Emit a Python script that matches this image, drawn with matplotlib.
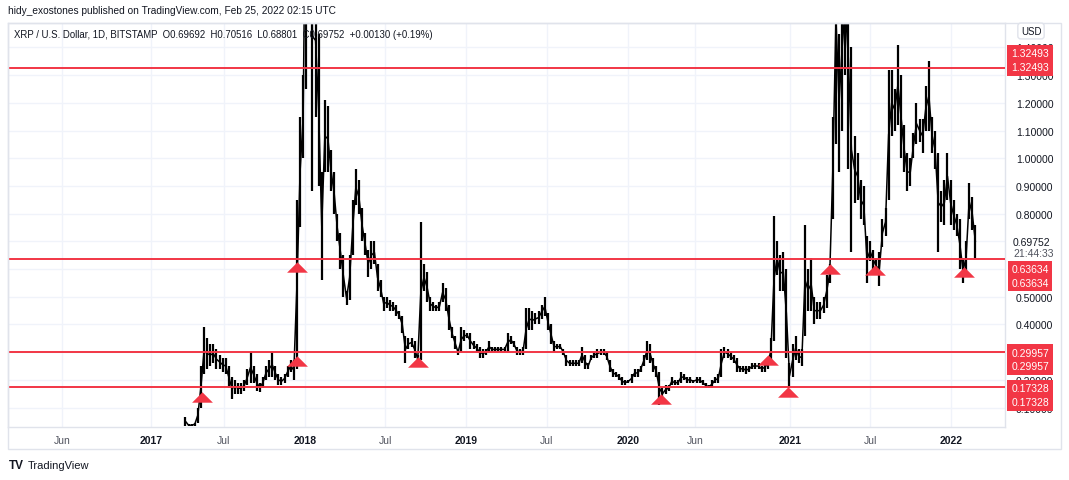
import matplotlib
matplotlib.use('Agg')
import matplotlib.pyplot as plt
from matplotlib.path import Path
from matplotlib.patches import Rectangle
import pandas as pd

plt.rcParams['font.family'] = ['Liberation Sans', 'DejaVu Sans']

# weekly low / high of XRP/USD (Bitstamp), weeks starting Monday 2017-04-03
lo_2017 = [0.035, 0.033, 0.033, 0.035,                 # apr
           0.045, 0.10, 0.22, 0.24, 0.25,              # may
           0.26, 0.24, 0.24, 0.23,                     # jun
           0.22, 0.17, 0.13, 0.15, 0.15,               # jul
           0.15, 0.16, 0.18, 0.19,                     # aug
           0.19, 0.16, 0.155, 0.17,                    # sep
           0.20, 0.21, 0.21, 0.20, 0.18,               # oct
           0.18, 0.19, 0.21, 0.23,                     # nov
           0.20, 0.24, 0.75, 1.00]                     # dec
hi_2017 = [0.066, 0.040, 0.040, 0.045,
           0.10, 0.25, 0.39, 0.35, 0.33,
           0.33, 0.31, 0.29, 0.28,
           0.28, 0.25, 0.21, 0.20, 0.19,
           0.19, 0.20, 0.24, 0.30,
           0.25, 0.22, 0.19, 0.21,
           0.25, 0.27, 0.30, 0.25, 0.22,
           0.21, 0.22, 0.25, 0.27,
           0.27, 0.85, 1.15, 1.30]

lo_2018 = [1.25, 1.80, 0.88, 1.15, 0.90,
           0.56, 0.95, 0.95, 0.88,
           0.80, 0.70, 0.60, 0.50,
           0.47, 0.49, 0.65, 0.83, 0.80,
           0.70, 0.65, 0.57, 0.60,
           0.62, 0.52, 0.50, 0.45,
           0.46, 0.45, 0.45, 0.43, 0.42,
           0.37, 0.26, 0.31, 0.32,
           0.28, 0.26, 0.27, 0.52,
           0.48, 0.45, 0.45, 0.45, 0.45,
           0.48, 0.45, 0.38, 0.35,
           0.31, 0.29, 0.30, 0.34, 0.35]
hi_2018 = [3.30, 3.00, 2.00, 1.70, 1.45,
           0.95, 1.21, 1.19, 1.03,
           0.95, 0.80, 0.73, 0.65,
           0.52, 0.65, 0.85, 0.96, 0.92,
           0.82, 0.73, 0.67, 0.70,
           0.70, 0.62, 0.56, 0.50,
           0.50, 0.49, 0.48, 0.47, 0.45,
           0.43, 0.36, 0.35, 0.35,
           0.34, 0.29, 0.77, 0.62,
           0.59, 0.50, 0.48, 0.47, 0.48,
           0.55, 0.53, 0.47, 0.39,
           0.36, 0.31, 0.39, 0.38, 0.37]

lo_2019 = [0.31, 0.31, 0.30, 0.28,
           0.28, 0.29, 0.30, 0.30,
           0.30, 0.30, 0.30, 0.30,
           0.30, 0.33, 0.32, 0.29, 0.29,
           0.29, 0.31, 0.38, 0.38,
           0.40, 0.40, 0.42, 0.43,
           0.38, 0.33, 0.30, 0.31, 0.31,
           0.29, 0.25, 0.25, 0.25,
           0.25, 0.25, 0.26, 0.24, 0.24,
           0.27, 0.28, 0.28, 0.29,
           0.29, 0.27, 0.23, 0.21,
           0.21, 0.20, 0.18, 0.18, 0.19]
hi_2019 = [0.37, 0.34, 0.33, 0.32,
           0.31, 0.31, 0.34, 0.32,
           0.32, 0.32, 0.32, 0.32,
           0.37, 0.36, 0.34, 0.32, 0.31,
           0.32, 0.46, 0.46, 0.45,
           0.44, 0.45, 0.47, 0.50,
           0.44, 0.40, 0.34, 0.33, 0.33,
           0.31, 0.29, 0.27, 0.27,
           0.27, 0.27, 0.32, 0.29, 0.26,
           0.29, 0.30, 0.31, 0.31,
           0.31, 0.30, 0.27, 0.24,
           0.23, 0.22, 0.21, 0.20, 0.20]

lo_2020 = [0.19, 0.21, 0.21, 0.23,
           0.25, 0.27, 0.26, 0.23,
           0.21, 0.11, 0.13, 0.15, 0.16,
           0.18, 0.18, 0.18, 0.19,
           0.20, 0.19, 0.19, 0.19,
           0.19, 0.19, 0.18, 0.17, 0.17,
           0.17, 0.19, 0.19, 0.21,
           0.28, 0.28, 0.27, 0.26, 0.23,
           0.23, 0.23, 0.22, 0.23,
           0.24, 0.24, 0.24, 0.23,
           0.23, 0.24, 0.26, 0.34, 0.58,
           0.52, 0.52, 0.28, 0.17]
hi_2020 = [0.22, 0.24, 0.24, 0.25,
           0.29, 0.34, 0.33, 0.28,
           0.25, 0.23, 0.17, 0.18, 0.18,
           0.21, 0.20, 0.20, 0.23,
           0.22, 0.21, 0.21, 0.20,
           0.21, 0.21, 0.20, 0.19, 0.18,
           0.20, 0.21, 0.22, 0.31,
           0.32, 0.31, 0.30, 0.29, 0.28,
           0.25, 0.25, 0.25, 0.25,
           0.26, 0.26, 0.26, 0.25,
           0.26, 0.28, 0.35, 0.79, 0.70,
           0.65, 0.66, 0.60, 0.26]

lo_2021 = [0.21, 0.27, 0.26, 0.25,
           0.36, 0.45, 0.45, 0.40,
           0.42, 0.42, 0.44, 0.46, 0.55,
           0.78, 1.05, 0.95, 1.10,
           1.30, 0.96, 0.66, 0.84, 0.85,
           0.78, 0.76, 0.55, 0.63,
           0.60, 0.58, 0.54, 0.68,
           0.72, 0.85, 1.08, 1.10, 1.12,
           1.00, 0.95, 0.88, 0.90,
           1.00, 1.05, 1.06, 1.02,
           1.10, 1.10, 1.02, 0.96, 0.66,
           0.77, 0.76, 0.85, 0.76]
hi_2021 = [0.33, 0.36, 0.31, 0.31,
           0.76, 0.60, 0.64, 0.50,
           0.48, 0.48, 0.50, 0.58, 0.62,
           1.15, 1.96, 1.45, 1.70,
           1.80, 1.76, 1.40, 1.08, 1.02,
           0.92, 0.90, 0.72, 0.70,
           0.67, 0.64, 0.66, 0.78,
           0.82, 1.32, 1.32, 1.25, 1.41,
           1.30, 1.12, 1.02, 1.00,
           1.09, 1.20, 1.14, 1.14,
           1.26, 1.35, 1.15, 1.10, 1.02,
           0.88, 0.92, 1.02, 0.92]

lo_2022 = [0.74, 0.72, 0.60, 0.55, 0.58, 0.78, 0.74, 0.64]
hi_2022 = [0.85, 0.80, 0.78, 0.64, 0.70, 0.91, 0.86, 0.76]

lows = lo_2017 + lo_2018 + lo_2019 + lo_2020 + lo_2021 + lo_2022
highs = hi_2017 + hi_2018 + hi_2019 + hi_2020 + hi_2021 + hi_2022
weeks = pd.date_range('2017-04-06', periods=len(lows), freq='7D')   # mid-week

# horizontal support / resistance levels
levels = [1.32493, 0.63634, 0.29957, 0.17328]
level_shift = [-8, 17, 7, 8]   # label box shift in px (down = positive)

# red triangle markers
tri_dates = pd.to_datetime(['2017-05-13', '2017-12-14', '2017-12-14', '2018-09-13',
                            '2020-03-15', '2020-11-12', '2020-12-27', '2021-04-01',
                            '2021-07-12', '2022-01-29'])
tri_prices = [0.140, 0.608, 0.268, 0.265, 0.130, 0.271, 0.155, 0.600, 0.597, 0.589]

tick_dates = pd.to_datetime(['2016-07-02', '2017-01-18', '2017-07-01', '2018-01-01',
                             '2018-07-01', '2019-01-01', '2019-07-01', '2020-01-01',
                             '2020-06-01', '2021-01-01', '2021-07-01', '2022-01-01'])
tick_labels = ['Jun', '2017', 'Jul', '2018', 'Jul', '2019', 'Jul', '2020',
               'Jun', '2021', 'Jul', '2022']
price_ticks = [0.1, 0.2, 0.3, 0.4, 0.5, 0.6, 0.7, 0.8, 0.9, 1.0, 1.1, 1.2, 1.3, 1.4]
hidden_ticks = [0.3, 0.6, 0.7]   # labels hidden by price/level labels

last_close = 0.69752

W, H = 1069, 481
fig = plt.figure(figsize=(W / 100, H / 100), dpi=100)
fig.patch.set_facecolor('white')
ax = fig.add_axes([8 / W, (H - 428) / H, (1005 - 8) / W, (428 - 24) / H])

red = '#f23645'
grid = '#f0f3fa'
border = '#e0e3eb'
txt = '#131722'

lo_s = pd.Series(lows)
hi_s = pd.Series(highs)
ax.vlines(weeks, lo_s, hi_s, color='black', lw=1.6, zorder=2)
ax.plot(weeks, (lo_s + hi_s) / 2, color='black', lw=1.1, zorder=2)

for lv in levels:
    ax.axhline(lv, color=red, lw=1.4, zorder=3)

tri = Path([(-1, -0.5), (1, -0.5), (0, 0.5), (-1, -0.5)],
           [Path.MOVETO, Path.LINETO, Path.LINETO, Path.CLOSEPOLY])
ax.plot(tri_dates, tri_prices, ls='none', marker=tri, ms=15, color=red, mew=0, zorder=4)

ax.set_xlim(pd.Timestamp('2016-03-01'), pd.Timestamp('2022-05-02'))
ax.set_ylim(0.030, 1.488)

ax.set_xticks(tick_dates)
ax.set_xticklabels(tick_labels)
for lab in ax.get_xticklabels():
    if lab.get_text().isdigit():
        lab.set_color(txt)
        lab.set_fontweight('bold')
    else:
        lab.set_color('#50535e')
ax.tick_params(axis='x', length=0, pad=6, labelsize=7.5)

ax.yaxis.tick_right()
ax.set_yticks(price_ticks)
ax.set_yticklabels(['' if p in hidden_ticks else '%.5f' % p for p in price_ticks])
ax.tick_params(axis='y', length=0, pad=8, labelsize=7.5, colors=txt)

ax.grid(True, color=grid, lw=1, zorder=0)
ax.set_axisbelow(True)
for s in ax.spines.values():
    s.set_color(border)
    s.set_linewidth(1)

for lv, dy in zip(levels, level_shift):
    ax.annotate('%.5f\n%.5f' % (lv, lv), xy=(1, lv), xycoords=('axes fraction', 'data'),
                xytext=(25, -dy), textcoords='offset pixels', ha='center', va='center',
                fontsize=7.5, color='white', linespacing=1.45, zorder=6,
                annotation_clip=False,
                bbox=dict(boxstyle='square,pad=0.35', fc=red, ec='none'))

ax.annotate('%.5f' % last_close, xy=(1, last_close), xycoords=('axes fraction', 'data'),
            xytext=(8, 0), textcoords='offset pixels', ha='left', va='center',
            fontsize=7.5, color=txt, annotation_clip=False)
ax.annotate('21:44:33', xy=(1, last_close), xycoords=('axes fraction', 'data'),
            xytext=(8, -11), textcoords='offset pixels', ha='left', va='center',
            fontsize=7.5, color='#50535e', annotation_clip=False)

# outer frame of the chart pane
fig.patches.append(Rectangle((8 / W, (H - 450) / H), (1061 - 8) / W, (450 - 24) / H,
                             transform=fig.transFigure, fill=False, ec=border, lw=1))

fig.text(8 / W, 1 - 11 / H, 'hidy_exostones published on TradingView.com, Feb 25, 2022 02:15 UTC',
         fontsize=7.3, color=txt, va='center')
fig.text(14 / W, 1 - 35 / H,
         'XRP / U.S. Dollar, 1D, BITSTAMP  O0.69692  H0.70516  L0.68801  C0.69752  +0.00130 (+0.19%)',
         fontsize=6.9, color=txt, va='center')
fig.text(1031 / W, 1 - 32 / H, 'USD', fontsize=7, color=txt, ha='center', va='center',
         bbox=dict(boxstyle='round,pad=0.3', fc='white', ec=border))

fig.text(9 / W, 1 - 466 / H, 'TV', fontsize=8.5, fontweight='bold', color=txt, va='center')
fig.text(28 / W, 1 - 466 / H, 'TradingView', fontsize=8, color=txt, va='center')

fig.savefig('out.png', dpi=100)
